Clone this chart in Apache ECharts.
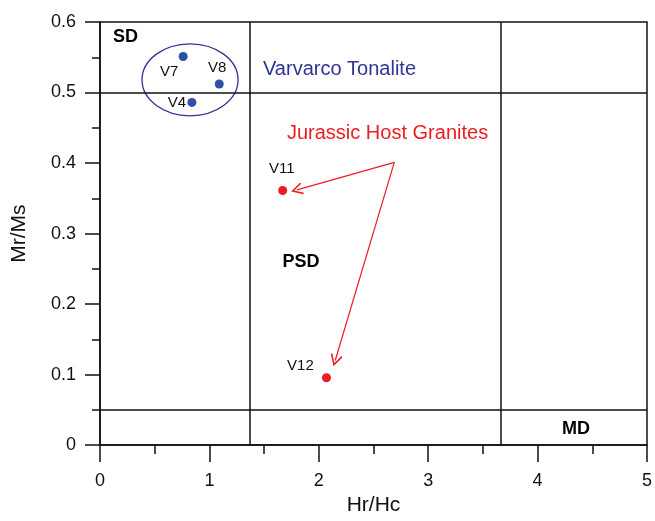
<!DOCTYPE html>
<html>
<head>
<meta charset="utf-8">
<script src="https://cdn.jsdelivr.net/npm/echarts@6/dist/echarts.min.js"></script>
<style>
  html, body { margin: 0; padding: 0; background: #fff; }
  #chart { width: 655px; height: 521px; }
</style>
</head>
<body>
<div id="chart"></div>
<script>
// Day plot values
const tonaliteNames = ['V7', 'V8', 'V4'];
const tonaliteHrHc = [0.76, 1.09, 0.84];
const tonaliteMrMs = [0.551, 0.512, 0.486];

const graniteNames = ['V11', 'V12'];
const graniteHrHc = [1.67, 2.07];
const graniteMrMs = [0.361, 0.0955];

// domain boundaries (SD / PSD / MD)
const hrHcBounds = [1.37, 3.66];
const mrMsBounds = [0.05, 0.5];

// ellipse round the tonalite samples: [cx, cy, rx, ry] in data units
const tonaliteEllipse = [0.823, 0.518, 0.439, 0.051];

// arrows from the granite caption to the samples
const arrowFrom = [2.69, 0.401];
const arrowTo = [[1.80, 0.362], [2.15, 0.120]];

const xTicks = [0, 1, 2, 3, 4, 5];
const yTicks = [0, 0.1, 0.2, 0.3, 0.4, 0.5, 0.6];

const regionText = ['SD', 'PSD', 'MD'];
const regionHrHc = [0.233, 1.837, 4.35];
const regionMrMs = [0.579, 0.260, 0.0224];

const captionText = ['Varvarco Tonalite', 'Jurassic Host Granites'];
const captionHrHc = [1.49, 1.709];
const captionMrMs = [0.532, 0.442];

const labelOffset = {
    V7: [-14, 15], V8: [-2, -16], V4: [-15, 0], V11: [-1, -22], V12: [-26, -12]
};

const font = 'Liberation Sans, Arial, sans-serif';
const ink = '#111';
const blue = '#2f4ea6';
const navy = '#2f3496';
const red = '#ec1c24';

function points(names, xs, ys) {
    return names.map((n, i) => ({
        name: n,
        value: [xs[i], ys[i]],
        label: { offset: labelOffset[n] }
    }));
}

const chart = echarts.init(document.getElementById('chart'));

const axisCommon = {
    type: 'value',
    axisLine: { show: true, onZero: false, lineStyle: { color: ink, width: 1.5 } },
    axisTick: { show: true, inside: false, lineStyle: { color: ink, width: 1.5 } },
    minorTick: { show: true, splitNumber: 2, lineStyle: { color: ink, width: 1.5 } },
    splitLine: { show: false },
    nameLocation: 'middle'
};

let option = {
    animation: false,
    backgroundColor: '#fff',
    grid: {
        left: 100, right: 8, top: 22, bottom: 70,
        show: true, borderColor: ink, borderWidth: 1.5
    },
    xAxis: Object.assign({}, axisCommon, {
        min: xTicks[0], max: xTicks[xTicks.length - 1], interval: 1,
        name: 'Hr/Hc', nameGap: 48,
        nameTextStyle: { color: ink, fontFamily: font, fontSize: 21 },
        axisTick: Object.assign({}, axisCommon.axisTick, { length: 17 }),
        minorTick: Object.assign({}, axisCommon.minorTick, { length: 9 }),
        axisLabel: { color: ink, fontFamily: font, fontSize: 18, margin: 27 }
    }),
    yAxis: Object.assign({}, axisCommon, {
        min: yTicks[0], max: yTicks[yTicks.length - 1], interval: 0.1,
        name: 'Mr/Ms', nameGap: 70, nameRotate: 90,
        nameTextStyle: { color: ink, fontFamily: font, fontSize: 21 },
        axisTick: Object.assign({}, axisCommon.axisTick, { length: 15 }),
        minorTick: Object.assign({}, axisCommon.minorTick, { length: 8 }),
        axisLabel: { color: ink, fontFamily: font, fontSize: 18, margin: 24 }
    }),
    series: [
        {
            // domain boundary lines
            type: 'scatter',
            data: [],
            silent: true,
            markLine: {
                silent: true,
                symbol: 'none',
                label: { show: false },
                lineStyle: { color: ink, width: 1.5, type: 'solid' },
                data: hrHcBounds.map(v => ({ xAxis: v }))
                    .concat(mrMsBounds.map(v => ({ yAxis: v })))
            }
        },
        {
            type: 'custom',
            silent: true,
            data: [tonaliteEllipse],
            renderItem: function (params, api) {
                const c = api.coord([api.value(0), api.value(1)]);
                const s = api.size([api.value(2), api.value(3)]);
                return {
                    type: 'ellipse',
                    shape: { cx: c[0], cy: c[1], rx: s[0], ry: s[1] },
                    style: { fill: 'none', stroke: navy, lineWidth: 1.3 }
                };
            }
        },
        {
            name: 'Varvarco Tonalite',
            type: 'scatter',
            symbolSize: 9,
            itemStyle: { color: blue, opacity: 1 },
            label: {
                show: true, position: 'inside', formatter: '{b}',
                color: ink, fontFamily: font, fontSize: 15
            },
            data: points(tonaliteNames, tonaliteHrHc, tonaliteMrMs)
        },
        {
            name: 'Jurassic Host Granites',
            type: 'scatter',
            symbolSize: 9,
            itemStyle: { color: red, opacity: 1 },
            label: {
                show: true, position: 'inside', formatter: '{b}',
                color: ink, fontFamily: font, fontSize: 15
            },
            data: points(graniteNames, graniteHrHc, graniteMrMs),
            markLine: {
                silent: true,
                symbol: ['none', 'path://M50,0 L100,80 L90,88 L50,24 L10,88 L0,80 Z'],
                symbolSize: 12,
                label: { show: false },
                lineStyle: { color: red, width: 1.2, type: 'solid', opacity: 1 },
                data: arrowTo.map(t => [{ coord: arrowFrom }, { coord: t }])
            }
        },
        {
            // region and caption text
            type: 'scatter',
            symbolSize: 0,
            silent: true,
            itemStyle: { opacity: 1 },
            label: {
                show: true, position: 'inside', formatter: '{b}',
                fontFamily: font
            },
            data: regionText.map((t, i) => ({
                name: t, value: [regionHrHc[i], regionMrMs[i]],
                label: { color: '#000', fontSize: 18, fontWeight: 'bold' }
            })).concat(captionText.map((t, i) => ({
                name: t, value: [captionHrHc[i], captionMrMs[i]],
                label: {
                    position: 'right', distance: 0, fontSize: 20,
                    color: i === 0 ? navy : red
                }
            })))
        }
    ]
};

chart.setOption(option);

window.addEventListener('resize', () => {
    chart.resize();
});
</script>
</body>
</html>
